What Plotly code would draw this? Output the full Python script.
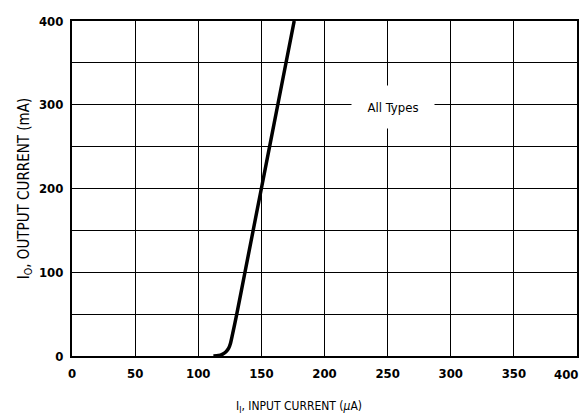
import plotly.graph_objects as go

# Data
input_current_uA = [112, 116, 119, 122, 124, 125.5, 127, 130.5, 137, 150, 163, 176]
output_current_mA = [0, 0.5, 2, 5, 9, 15, 25, 50, 100, 200, 300, 400]

x_ticks = [0, 50, 100, 150, 200, 250, 300, 350, 400]
y_ticks = [0, 100, 200, 300, 400]

x_title = "I<sub>I</sub>, INPUT CURRENT (<i>μ</i>A)"
y_title = "I<sub>O</sub>, OUTPUT CURRENT (mA)"
series_label = "All Types"

FONT = "Liberation Sans Narrow, DejaVu Sans Condensed, Roboto Condensed, Arial Narrow, sans-serif"

fig = go.Figure()
fig.add_trace(go.Scatter(
    x=input_current_uA, y=output_current_mA, mode="lines",
    line=dict(color="black", width=3.5, shape="spline", smoothing=0.6),
    showlegend=False, hoverinfo="skip"))

fig.add_annotation(
    x=254, y=297, xref="x", yref="y", text=series_label, showarrow=False,
    font=dict(family=FONT, size=13, color="black"),
    bgcolor="white", width=78, height=38, borderpad=2)

# last x tick label, kept inside the figure like the reference
fig.add_annotation(
    x=x_ticks[-1], y=0, xref="x", yref="paper", text=str(x_ticks[-1]),
    showarrow=False, xanchor="right", yanchor="top", xshift=3, yshift=-9,
    font=dict(family=FONT, size=13, color="black", weight="bold"))

# x-axis title (sits a little left of centre in the reference)
fig.add_annotation(
    x=0.45, y=-0.152, xref="paper", yref="paper", text=x_title,
    showarrow=False, xanchor="center", yanchor="middle",
    font=dict(family=FONT, size=12, color="black"))

fig.update_layout(
    width=586, height=420,
    margin=dict(l=72, r=9, t=21, b=64, autoexpand=False),
    paper_bgcolor="white", plot_bgcolor="white",
    font=dict(family=FONT, color="black"),
)

fig.update_xaxes(
    range=[0, 400], tickvals=x_ticks[:-1], ticktext=[str(v) for v in x_ticks[:-1]],
    showgrid=True, gridcolor="black", gridwidth=1,
    showline=True, linecolor="black", linewidth=2, mirror=True,
    ticks="", ticklabelstandoff=4,
    tickfont=dict(family=FONT, size=13, color="black", weight="bold"),
    zeroline=False, fixedrange=True, automargin=False)

fig.update_yaxes(
    range=[0, 400], tickvals=y_ticks, ticktext=[str(v) for v in y_ticks],
    showgrid=True, gridcolor="black", gridwidth=1,
    minor=dict(dtick=50, tick0=0, showgrid=True, gridcolor="black", gridwidth=1),
    showline=True, linecolor="black", linewidth=2, mirror=True,
    ticks="", ticklabelstandoff=4,
    tickfont=dict(family=FONT, size=13, color="black", weight="bold"),
    title=dict(text=y_title, font=dict(family=FONT, size=15, color="black"), standoff=6),
    zeroline=False, fixedrange=True, automargin=False)

fig.write_html(
    "out.html",
    config={"displayModeBar": False},
    post_script="document.body.style.margin='0';document.body.style.padding='0';")
